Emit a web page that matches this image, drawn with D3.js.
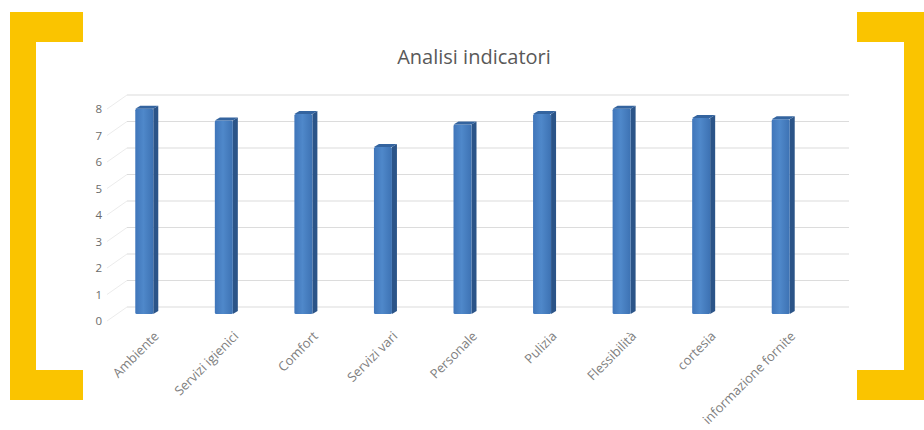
<!DOCTYPE html>
<html>
<head>
<meta charset="utf-8">
<script src="https://cdn.jsdelivr.net/npm/d3@7"></script>
<style>
  body { margin: 0; background: #fff; }
  svg { display: block; font-family: "Open Sans", sans-serif; }
  .title { font-size: 20px; fill: #595959; }
  .ylab { font-size: 11.5px; fill: #6b6b6b; }
  .xlab { font-size: 13px; fill: #808080; }
</style>
</head>
<body>
<svg id="chart" width="924" height="430"></svg>
<script>
// data
var categories = ["Ambiente", "Servizi igienici", "Comfort", "Servizi vari", "Personale",
                  "Pulizia", "Flessibilità", "cortesia", "informazione fornite"];
var values = [7.75, 7.3, 7.55, 6.3, 7.15, 7.55, 7.75, 7.4, 7.35];
var yTicks = [0, 1, 2, 3, 4, 5, 6, 7, 8];
var chartTitle = "Analisi indicatori";

var svg = d3.select("#chart");

// yellow brackets around the chart
var gold = "#fac400";
function bracket(x0, dir) {
    // dir = 1 opens to the right, -1 opens to the left
    var outer = x0, inner = x0 + dir * 26, armEnd = x0 + dir * 73;
    var top = 12, bottom = 400, thick = 30;
    var pts = [
        [outer, top], [armEnd, top], [armEnd, top + thick], [inner, top + thick],
        [inner, bottom - thick], [armEnd, bottom - thick], [armEnd, bottom], [outer, bottom]
    ];
    svg.append("polygon")
        .attr("points", pts.map(p => p.join(",")).join(" "))
        .attr("fill", gold);
}
bracket(10, 1);
bracket(930, -1);

// scales (front plane of the columns)
var x = d3.scaleBand()
    .domain(categories)
    .range([107, 823]);

var y = d3.scaleLinear()
    .domain([0, 8])
    .range([314, 102]);

// depth offsets for the 3d look
var backDx = 20, backDy = -7;

// back wall gridlines
var grid = svg.append("g");
grid.selectAll("line.back")
    .data(yTicks)
    .join("line")
    .attr("class", "back")
    .attr("x1", x.range()[0] + backDx)
    .attr("x2", x.range()[1] + 26)
    .attr("y1", d => y(d) + backDy)
    .attr("y2", d => y(d) + backDy)
    .attr("stroke", "#dcdcdc")
    .attr("stroke-width", 1.2);

// side wall gridlines
grid.selectAll("line.side")
    .data(yTicks)
    .join("line")
    .attr("class", "side")
    .attr("x1", x.range()[0])
    .attr("x2", x.range()[0] + backDx)
    .attr("y1", d => y(d) + 7)
    .attr("y2", d => y(d) + backDy)
    .attr("stroke", "#ececec")
    .attr("stroke-width", 1);

// y axis labels
svg.append("g")
    .selectAll("text")
    .data(yTicks)
    .join("text")
    .attr("class", "ylab")
    .attr("x", 102)
    .attr("y", d => y(d) + 7)
    .attr("dy", "0.35em")
    .attr("text-anchor", "end")
    .text(d => d);

// columns: front face, side face, top face
var defs = svg.append("defs");
var grad = defs.append("linearGradient").attr("id", "front");
grad.append("stop").attr("offset", "0%").attr("stop-color", "#4076ba");
grad.append("stop").attr("offset", "45%").attr("stop-color", "#4f88ca");
grad.append("stop").attr("offset", "100%").attr("stop-color", "#3d72b3");

var faceW = 18, depthX = 5, depthY = 3;

var bars = svg.append("g")
    .selectAll("g")
    .data(categories.map((c, i) => ({ name: c, value: values[i] })))
    .join("g")
    .attr("transform", d => `translate(${x(d.name) + x.bandwidth() / 2 - 11.5},0)`);

bars.append("polygon")
    .attr("points", d => {
        var t = y(d.value), b = y(0);
        return [[faceW, t], [faceW + depthX, t - depthY], [faceW + depthX, b - depthY], [faceW, b]]
            .map(p => p.join(",")).join(" ");
    })
    .attr("fill", "#2b5488");

bars.append("rect")
    .attr("x", 0)
    .attr("y", d => y(d.value))
    .attr("width", faceW)
    .attr("height", d => y(0) - y(d.value))
    .attr("rx", 1.5)
    .attr("fill", "url(#front)");

bars.append("polygon")
    .attr("points", d => {
        var t = y(d.value);
        return [[0, t], [depthX, t - depthY], [faceW + depthX, t - depthY], [faceW, t]]
            .map(p => p.join(",")).join(" ");
    })
    .attr("fill", "#34649f");

// category labels, rotated
svg.append("g")
    .selectAll("text")
    .data(categories)
    .join("text")
    .attr("class", "xlab")
    .attr("text-anchor", "end")
    .attr("transform", d => `translate(${x(d) + x.bandwidth() / 2 + 13},337) rotate(-45)`)
    .text(d => d);

// title
svg.append("text")
    .attr("class", "title")
    .attr("x", 474)
    .attr("y", 64)
    .attr("text-anchor", "middle")
    .text(chartTitle);
</script>
</body>
</html>
